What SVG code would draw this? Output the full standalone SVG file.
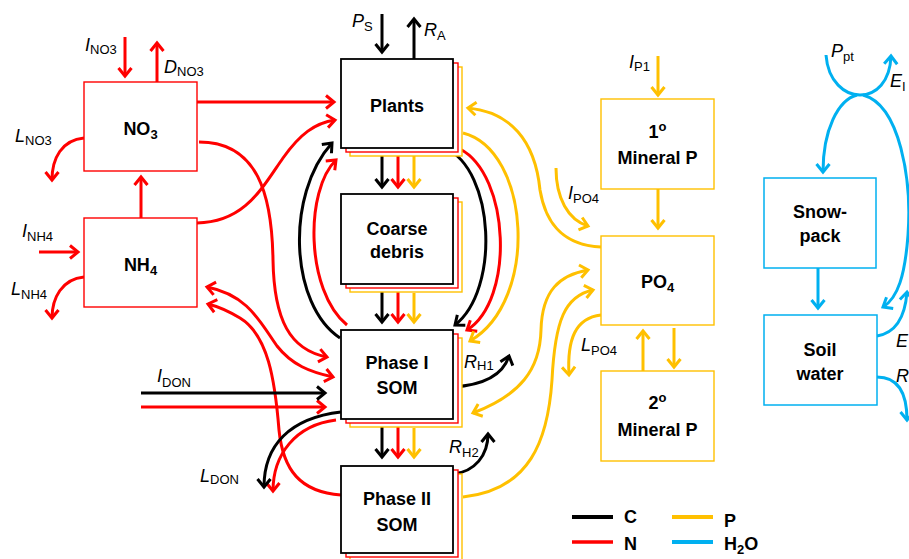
<svg xmlns="http://www.w3.org/2000/svg" width="909" height="559" viewBox="0 0 909 559">
<style>
text{font-family:"Liberation Sans",Arial,sans-serif;fill:#000}
.nm{font-weight:bold;font-size:18px;text-anchor:middle}
.lb{font-style:italic;font-size:18px}
.sb{font-style:normal;font-size:13px}
.bk{fill:#fff;stroke:#000;stroke-width:1.8}
.rl{fill:#fff;stroke:#f00;stroke-width:1.4}
.yl{fill:#fff;stroke:#ffc000;stroke-width:1.4}
.bl{fill:#fff;stroke:#00b0f0;stroke-width:1.5}
.c{fill:none;stroke-width:3}
.k{stroke:#000;marker-end:url(#mk)}
.r{stroke:#f00;marker-end:url(#mr)}
.y{stroke:#ffc000;marker-end:url(#my)}
.b{stroke:#00b0f0;marker-end:url(#mb)}
.r2{marker-start:url(#mr)}
.y2{marker-start:url(#my)}
</style>
<defs>
<marker id="mk" markerUnits="userSpaceOnUse" markerWidth="20" markerHeight="20" refX="0" refY="0" orient="auto-start-reverse" overflow="visible"><path d="M-8,-6.5 L0,0 L-8,6.5" fill="none" stroke="#000" stroke-width="3"/></marker>
<marker id="mr" markerUnits="userSpaceOnUse" markerWidth="20" markerHeight="20" refX="0" refY="0" orient="auto-start-reverse" overflow="visible"><path d="M-8,-6.5 L0,0 L-8,6.5" fill="none" stroke="#f00" stroke-width="3"/></marker>
<marker id="my" markerUnits="userSpaceOnUse" markerWidth="20" markerHeight="20" refX="0" refY="0" orient="auto-start-reverse" overflow="visible"><path d="M-8,-6.5 L0,0 L-8,6.5" fill="none" stroke="#ffc000" stroke-width="3"/></marker>
<marker id="mb" markerUnits="userSpaceOnUse" markerWidth="20" markerHeight="20" refX="0" refY="0" orient="auto-start-reverse" overflow="visible"><path d="M-8,-6.5 L0,0 L-8,6.5" fill="none" stroke="#00b0f0" stroke-width="3"/></marker>
</defs>
<rect width="909" height="559" fill="#fff"/>

<g id="connectors">
<!-- red N -->
<path class="c r" d="M125,37 L125,76"/>
<path class="c r" d="M157,82 L157,43"/>
<path class="c r" d="M84,138 C62,140 52,158 52,180"/>
<path class="c r" d="M197,102 L334,102"/>
<path class="c r" d="M141,218 L141,177"/>
<path class="c r" d="M39,252 L78,252"/>
<path class="c r" d="M84,277 C62,279 52,298 52,318"/>
<path class="c r" d="M197,223 C245,222 262,188 283,158 C300,134 315,123 335,120"/>
<path class="c r" d="M199,142 C258,142 272,195 273,260 C274,320 290,350 327,357"/>
<path class="c r r2" d="M207,287 C248,295 260,322 277,346 C292,365 310,372 333,377"/>
<path class="c r" d="M341,495 C300,492 283,470 279,430 C275,380 268,335 240,318 C230,312 220,307 208,304"/>
<path class="c r" d="M141,407 L325,407"/>
<path class="c r" d="M336,420 C295,425 273,455 273,491"/>
<path class="c r" d="M398,153 L398,187"/>
<path class="c r" d="M398,289 L398,322"/>
<path class="c r" d="M398,424 L398,457"/>
<path class="c r" d="M347,325 C305,290 305,190 336,160"/>
<path class="c r" d="M460,149 C510,175 515,300 467,330"/>
<!-- black C -->
<path class="c k" d="M382,14 L382,52"/>
<path class="c k" d="M414,59 L414,19"/>
<path class="c k" d="M382,148 L382,187"/>
<path class="c k" d="M382,284 L382,322"/>
<path class="c k" d="M382,419 L382,457"/>
<path class="c k" d="M340,338 C290,305 285,195 332,143"/>
<path class="c k" d="M445,148 C495,170 500,290 455,325"/>
<path class="c k" d="M141,393 L325,393"/>
<path class="c k" d="M341,412 C290,418 264,445 264,487"/>
<path class="c k" d="M453,387 C485,385 503,375 509,356"/>
<path class="c k" d="M453,474 C475,472 488,455 488,434"/>
<!-- yellow P -->
<path class="c y" d="M414,156 L414,187"/>
<path class="c y" d="M414,293 L414,322"/>
<path class="c y" d="M414,428 L414,457"/>
<path class="c y" d="M463,133 C530,150 540,300 470,341"/>
<path class="c y" d="M601,247 C560,245 545,220 540,190 C535,140 510,112 468,108"/>
<path class="c y" d="M556,168 C556,198 568,220 588,226"/>
<path class="c y y2" d="M473,413 C520,395 540,370 541,330 C542,290 560,275 588,270"/>
<path class="c y" d="M463,497 C530,490 548,440 552,380 C555,320 565,296 593,290"/>
<path class="c y" d="M658,56 L658,95"/>
<path class="c y" d="M658,189 L658,228"/>
<path class="c y" d="M674,328 L674,367"/>
<path class="c y" d="M643,371 L643,331"/>
<path class="c y" d="M601,315 C575,318 567,340 569,375"/>
<!-- blue H2O -->
<path class="c b" d="M826,55 C828,82 845,95 860,95 C876,95 890,82 891,56"/>
<path class="c b" d="M857,95 C838,100 823,130 823,172"/>
<path class="c b" d="M863,95 C900,105 912,180 908,235 C905,275 898,298 883,307"/>
<path class="c b" d="M818,268 L818,308"/>
<path class="c b" d="M877,336 C895,333 905,318 907,292"/>
<path class="c b" d="M877,377 C897,377 907,392 907,420"/>
</g>

<g id="NO3">
<rect class="rl" x="84" y="82" width="113" height="89"/>
<text class="nm" x="140.5" y="135">NO<tspan dy="4" font-size="13">3</tspan></text>
</g>
<g id="NH4">
<rect class="rl" x="84" y="218" width="113" height="89"/>
<text class="nm" x="140.5" y="271">NH<tspan dy="4" font-size="13">4</tspan></text>
</g>
<g id="Plants">
<rect class="yl" x="350" y="67" width="112" height="89"/>
<rect class="rl" x="346" y="63" width="112" height="89"/>
<rect class="bk" x="341" y="59" width="112" height="89"/>
<text class="nm" x="397" y="112">Plants</text>
</g>
<g id="CoarseDebris">
<rect class="yl" x="350" y="202" width="112" height="90"/>
<rect class="rl" x="346" y="198" width="112" height="90"/>
<rect class="bk" x="341" y="194" width="112" height="90"/>
<text class="nm" x="397" y="235">Coarse</text>
<text class="nm" x="397" y="258">debris</text>
</g>
<g id="PhaseISOM">
<rect class="yl" x="350" y="338" width="112" height="89"/>
<rect class="rl" x="346" y="334" width="112" height="89"/>
<rect class="bk" x="341" y="330" width="112" height="89"/>
<text class="nm" x="397" y="369">Phase I</text>
<text class="nm" x="397" y="394">SOM</text>
</g>
<g id="PhaseIISOM">
<rect class="yl" x="350" y="474" width="112" height="87"/>
<rect class="rl" x="346" y="470" width="112" height="87"/>
<rect class="bk" x="341" y="466" width="112" height="87"/>
<text class="nm" x="397" y="505">Phase II</text>
<text class="nm" x="397" y="531">SOM</text>
</g>
<g id="MineralP1">
<rect class="yl" x="601" y="99" width="113" height="90"/>
<text class="nm" x="657.5" y="138">1<tspan dy="-7" font-size="13">o</tspan></text>
<text class="nm" x="657.5" y="164">Mineral P</text>
</g>
<g id="PO4">
<rect class="yl" x="601" y="236" width="113" height="89"/>
<text class="nm" x="657.5" y="288">PO<tspan dy="4" font-size="13">4</tspan></text>
</g>
<g id="MineralP2">
<rect class="yl" x="601" y="371" width="113" height="90"/>
<text class="nm" x="657.5" y="409">2<tspan dy="-7" font-size="13">o</tspan></text>
<text class="nm" x="657.5" y="436">Mineral P</text>
</g>
<g id="Snowpack">
<rect class="bl" x="764" y="178" width="112" height="90"/>
<text class="nm" x="820" y="218">Snow-</text>
<text class="nm" x="820" y="242">pack</text>
</g>
<g id="SoilWater">
<rect class="bl" x="764" y="315" width="113" height="90"/>
<text class="nm" x="820" y="356">Soil</text>
<text class="nm" x="820" y="380">water</text>
</g>

<g id="labels">
<text class="lb" x="85" y="51">I<tspan class="sb" dy="3">NO3</tspan></text>
<text class="lb" x="164" y="73">D<tspan class="sb" dy="3">NO3</tspan></text>
<text class="lb" x="15" y="142">L<tspan class="sb" dy="3">NO3</tspan></text>
<text class="lb" x="22" y="237">I<tspan class="sb" dy="4">NH4</tspan></text>
<text class="lb" x="11" y="295">L<tspan class="sb" dy="4">NH4</tspan></text>
<text class="lb" x="352" y="27">P<tspan class="sb" dy="4">S</tspan></text>
<text class="lb" x="424" y="36">R<tspan class="sb" dy="4">A</tspan></text>
<text class="lb" x="568" y="199">I<tspan class="sb" dy="4">PO4</tspan></text>
<text class="lb" x="629" y="68">I<tspan class="sb" dy="3">P1</tspan></text>
<text class="lb" x="831" y="57">P<tspan class="sb" dy="4">pt</tspan></text>
<text class="lb" x="890" y="87">E<tspan class="sb" dy="4">I</tspan></text>
<text class="lb" x="896" y="347">E</text>
<text class="lb" x="896" y="382">R</text>
<text class="lb" x="581" y="351">L<tspan class="sb" dy="4">PO4</tspan></text>
<text class="lb" x="157" y="382">I<tspan class="sb" dy="5">DON</tspan></text>
<text class="lb" x="200" y="482">L<tspan class="sb" dy="2">DON</tspan></text>
<text class="lb" x="464" y="368">R<tspan class="sb" dy="2">H1</tspan></text>
<text class="lb" x="449" y="453">R<tspan class="sb" dy="4">H2</tspan></text>
</g>

<g id="legend">
<line x1="572" y1="517" x2="613" y2="517" stroke="#000" stroke-width="4"/>
<line x1="572" y1="542" x2="613" y2="542" stroke="#f00" stroke-width="3.5"/>
<line x1="672" y1="517" x2="713" y2="517" stroke="#ffc000" stroke-width="4"/>
<line x1="672" y1="542" x2="713" y2="542" stroke="#00b0f0" stroke-width="4"/>
<text font-weight="bold" font-size="18" x="624" y="523">C</text>
<text font-weight="bold" font-size="18" x="624" y="550">N</text>
<text font-weight="bold" font-size="18" x="724" y="527">P</text>
<text font-weight="bold" font-size="18" x="724" y="550">H<tspan dy="4" font-size="13">2</tspan><tspan dy="-4">O</tspan></text>
</g>
</svg>
